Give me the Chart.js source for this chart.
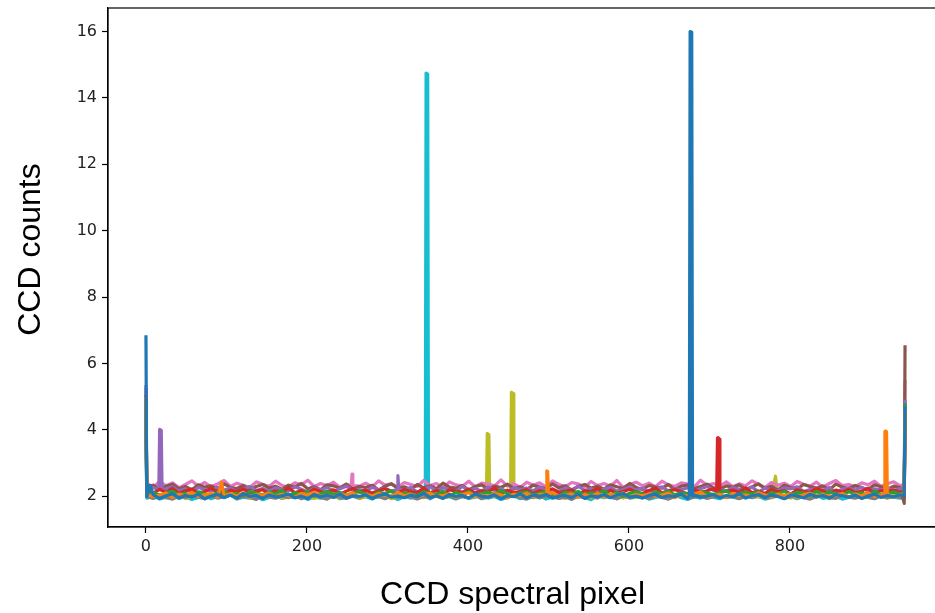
<!DOCTYPE html>
<html>
<head>
<meta charset="utf-8">
<script src="https://cdn.jsdelivr.net/npm/chart.js@4.4.1/dist/chart.umd.min.js"></script>
<style>
  html, body { margin: 0; padding: 0; background: #fff; overflow: hidden; }
  #ccdChart { display: block; }
</style>
</head>
<body>
<canvas id="ccdChart" width="950" height="613"></canvas>
<script>
// spectra read out of the CCD, one line per frame
const lastPixel = 943;
const sampleStep = 8;           // baseline values are kept every 8th pixel, starting at pixel 1
const xTicks = [0, 200, 400, 600, 800];
const yTicks = [2, 4, 6, 8, 10, 12, 14, 16];
const xTitle = 'CCD spectral pixel';
const yTitle = 'CCD counts';

const lineColors = ['#1f77b4', '#ff7f0e', '#2ca02c', '#d62728', '#9467bd',
                    '#8c564b', '#e377c2', '#7f7f7f', '#bcbd22', '#17becf'];

// counts at pixel 0, at the next-to-last pixel and at the last pixel
const blueEdges = [6.85, 2.01, 4.7];
const orangeEdges = [5.0, 2.05, 4.6];
const greenEdges = [4.9, 2.09, 4.8];
const redEdges = [5.05, 2.14, 4.5];
const purpleEdges = [5.35, 2.22, 4.9];
const brownEdges = [4.8, 1.78, 6.55];
const pinkEdges = [5.25, 2.36, 5.5];
const grayEdges = [4.4, 1.95, 4.4];
const oliveEdges = [4.2, 1.99, 4.6];
const cyanEdges = [4.1, 1.94, 4.3];

// baseline noise
const blueNoise = [1.98,2.04,1.93,2.01,2.07,1.95,2.02,1.97,2.06,1.92, 2.00,2.05,1.96,2.03,1.94,2.08,1.99,2.02,1.93,2.04,
  1.97,2.01,2.06,1.95,2.00,1.92,2.05,1.98,2.03,1.96, 2.07,1.94,2.01,1.99,2.04,1.93,2.02,2.06,1.97,2.00,
  1.95,2.03,1.98,2.08,1.96,2.01,1.93,2.05,1.99,2.02, 1.94,2.06,2.00,1.97,2.04,1.92,2.01,1.98,2.07,1.95,
  2.03,1.99,2.05,1.94,2.00,2.02,1.96,2.06,1.93,2.01, 1.98,2.04,1.95,2.03,2.08,1.97,2.00,1.94,2.02,2.05,
  1.96,2.01,1.99,2.06,1.93,2.03,1.97,2.00,2.04,1.95, 2.02,1.98,2.07,1.94,2.01,2.05,1.96,2.03,1.99,1.92,
  2.04,2.00,1.95,2.06,1.98,2.02,1.94,2.05,2.01,1.97, 2.03,1.93,2.00,2.06,1.96,2.02,1.98,2.04];
const orangeNoise = [2.05,1.98,2.03,2.09,1.96,2.06,2.01,2.11,1.99,2.04, 2.08,1.97,2.02,2.07,2.00,2.10,1.95,2.05,2.03,2.09,
  1.98,2.06,2.01,1.96,2.08,2.04,2.12,1.99,2.03,1.97, 2.07,2.02,2.10,1.95,2.05,2.00,2.08,2.03,1.98,2.11,
  2.01,2.06,1.97,2.04,2.09,1.99,2.02,2.07,1.96,2.05, 2.10,2.00,2.03,1.98,2.08,2.04,1.95,2.06,2.01,2.09,
  1.97,2.05,2.02,2.11,1.99,2.03,2.07,1.96,2.04,2.00, 2.08,1.98,2.06,2.02,2.10,1.95,2.05,2.01,2.07,1.99,
  2.03,2.09,1.97,2.04,2.00,2.06,2.12,1.98,2.02,2.05, 1.96,2.08,2.01,2.04,1.99,2.10,2.03,1.97,2.06,2.02,
  2.07,1.95,2.04,2.09,2.00,2.05,1.98,2.03,2.08,1.96, 2.06,2.01,2.10,1.99,2.04,2.02,1.97,2.05];
const greenNoise = [2.06,2.12,2.02,2.10,2.15,2.04,2.09,2.00,2.13,2.07, 2.03,2.11,2.16,2.05,2.08,2.01,2.14,2.09,2.04,2.12,
  2.07,2.17,2.02,2.10,2.06,2.13,2.00,2.08,2.15,2.05, 2.11,2.03,2.09,2.14,2.06,2.01,2.12,2.08,2.16,2.04,
  2.10,2.07,2.02,2.13,2.09,2.05,2.15,2.00,2.11,2.06, 2.14,2.03,2.08,2.12,2.05,2.17,2.07,2.02,2.10,2.13,
  2.04,2.09,2.15,2.06,2.01,2.12,2.08,2.14,2.03,2.10, 2.07,2.16,2.05,2.11,2.00,2.09,2.13,2.06,2.02,2.12,
  2.08,2.15,2.04,2.10,2.07,2.01,2.14,2.09,2.05,2.11, 2.16,2.03,2.08,2.12,2.06,2.13,2.00,2.10,2.07,2.15,
  2.04,2.11,2.09,2.02,2.14,2.06,2.12,2.08,2.03,2.13, 2.07,2.10,2.01,2.15,2.05,2.09,2.12,2.06];
const redNoise = [2.17,2.09,2.20,2.12,2.23,2.08,2.16,2.21,2.10,2.14, 2.24,2.11,2.06,2.18,2.13,2.22,2.09,2.15,2.19,2.07,
  2.16,2.12,2.25,2.10,2.17,2.08,2.21,2.14,2.11,2.19, 2.06,2.15,2.23,2.12,2.18,2.09,2.16,2.22,2.13,2.08,
  2.20,2.14,2.11,2.24,2.10,2.17,2.07,2.19,2.15,2.12, 2.21,2.09,2.16,2.13,2.25,2.08,2.18,2.11,2.14,2.20,
  2.07,2.17,2.12,2.22,2.10,2.15,2.19,2.06,2.16,2.13, 2.23,2.11,2.18,2.09,2.14,2.21,2.12,2.08,2.17,2.24,
  2.10,2.15,2.20,2.13,2.07,2.19,2.11,2.16,2.22,2.09, 2.14,2.18,2.12,2.25,2.10,2.15,2.08,2.20,2.13,2.17,
  2.06,2.19,2.14,2.11,2.23,2.16,2.09,2.18,2.12,2.21, 2.10,2.15,2.24,2.08,2.17,2.13,2.19,2.11];
const purpleNoise = [2.19,2.25,2.14,2.23,2.28,2.16,2.22,2.12,2.26,2.20, 2.15,2.27,2.18,2.24,2.13,2.21,2.29,2.17,2.23,2.14,
  2.25,2.19,2.16,2.28,2.21,2.12,2.24,2.18,2.26,2.15, 2.22,2.30,2.17,2.20,2.13,2.27,2.19,2.24,2.15,2.23,
  2.18,2.26,2.12,2.21,2.28,2.16,2.25,2.20,2.14,2.29, 2.19,2.23,2.15,2.27,2.17,2.22,2.13,2.26,2.20,2.24,
  2.16,2.28,2.18,2.21,2.14,2.25,2.19,2.30,2.17,2.23, 2.12,2.22,2.26,2.15,2.20,2.27,2.18,2.24,2.13,2.21,
  2.28,2.16,2.23,2.19,2.25,2.14,2.22,2.29,2.17,2.20, 2.15,2.26,2.21,2.18,2.27,2.13,2.24,2.19,2.16,2.25,
  2.22,2.28,2.14,2.20,2.23,2.17,2.26,2.12,2.21,2.24, 2.18,2.27,2.15,2.22,2.19,2.25,2.16,2.23];
const brownNoise = [2.25,2.33,2.20,2.30,2.36,2.22,2.29,2.19,2.34,2.27, 2.31,2.21,2.37,2.26,2.23,2.32,2.18,2.29,2.35,2.24,
  2.30,2.20,2.33,2.27,2.38,2.22,2.28,2.19,2.34,2.31, 2.24,2.36,2.21,2.29,2.26,2.33,2.18,2.30,2.37,2.23,
  2.28,2.20,2.35,2.25,2.31,2.22,2.39,2.27,2.24,2.32, 2.19,2.29,2.34,2.21,2.30,2.26,2.36,2.23,2.28,2.20,
  2.33,2.27,2.22,2.37,2.25,2.31,2.18,2.29,2.35,2.24, 2.30,2.21,2.34,2.28,2.23,2.38,2.26,2.20,2.32,2.27,
  2.24,2.35,2.19,2.30,2.33,2.22,2.29,2.36,2.25,2.21, 2.31,2.27,2.34,2.20,2.28,2.37,2.23,2.30,2.18,2.33,
  2.26,2.22,2.35,2.29,2.24,2.31,2.19,2.36,2.27,2.23, 2.32,2.25,2.20,2.34,2.28,2.21,2.30,2.26];
const pinkNoise = [2.38,2.27,2.44,2.31,2.40,2.25,2.35,2.46,2.30,2.41, 2.28,2.37,2.47,2.29,2.39,2.33,2.26,2.43,2.36,2.30,
  2.45,2.32,2.27,2.40,2.34,2.48,2.29,2.38,2.31,2.42, 2.26,2.36,2.44,2.30,2.39,2.28,2.46,2.33,2.37,2.27,
  2.41,2.35,2.29,2.47,2.32,2.38,2.25,2.43,2.34,2.30, 2.45,2.28,2.39,2.36,2.31,2.49,2.30,2.37,2.26,2.42,
  2.33,2.40,2.28,2.46,2.35,2.29,2.41,2.37,2.27,2.44, 2.32,2.38,2.30,2.47,2.26,2.36,2.42,2.31,2.39,2.28,
  2.45,2.34,2.29,2.40,2.36,2.27,2.48,2.33,2.38,2.30, 2.43,2.28,2.37,2.31,2.46,2.35,2.26,2.41,2.33,2.39,
  2.29,2.44,2.36,2.30,2.42,2.27,2.38,2.47,2.32,2.35, 2.28,2.40,2.34,2.45,2.30,2.37,2.43,2.31];
const grayNoise = [1.99,1.93,2.02,1.96,1.91,2.00,1.95,2.03,1.97,1.92, 2.01,1.94,1.98,2.04,1.93,1.99,1.96,1.90,2.02,1.97,
  1.94,2.00,1.95,2.03,1.92,1.98,2.01,1.96,1.91,2.02, 1.97,1.93,2.00,1.95,2.04,1.94,1.99,1.92,2.01,1.96,
  2.03,1.97,1.91,1.99,1.94,2.02,1.96,2.00,1.93,1.98, 1.95,2.03,1.92,1.97,2.01,1.94,1.99,2.04,1.96,1.91,
  2.00,1.95,1.98,2.02,1.93,1.97,1.90,2.01,1.96,1.99, 1.94,2.03,1.97,1.92,2.00,1.95,2.02,1.98,1.93,2.01,
  1.96,1.91,1.99,2.04,1.94,1.97,2.00,1.93,1.98,2.02, 1.95,1.99,1.92,2.01,1.96,2.03,1.94,1.97,2.00,1.93,
  1.98,2.02,1.95,1.91,1.99,2.01,1.96,1.93,2.03,1.97, 1.94,2.00,1.96,1.92,2.01,1.95,1.99,1.96];
const oliveNoise = [2.01,1.96,2.05,1.94,2.00,2.03,1.93,1.98,2.06,1.97, 2.02,1.95,1.99,2.04,1.92,2.01,1.97,2.05,1.95,2.00,
  2.03,1.94,1.98,2.06,1.96,2.02,1.93,2.00,2.04,1.97, 1.95,2.01,2.05,1.94,1.99,2.03,1.96,2.02,1.92,1.98,
  2.04,1.97,2.00,1.95,2.06,1.99,1.94,2.02,1.97,2.03, 1.93,2.00,1.96,2.05,1.98,2.01,1.95,2.04,1.97,1.99,
  2.02,1.94,2.06,1.96,2.00,1.93,2.03,1.98,2.01,1.95, 2.05,1.97,1.99,2.02,1.94,2.04,1.96,2.00,1.93,2.03,
  1.98,2.01,1.95,2.05,1.97,1.99,2.02,1.94,2.06,1.96, 2.00,2.03,1.93,1.98,2.04,1.97,2.01,1.95,1.99,2.02,
  1.94,2.05,1.97,2.00,1.96,2.03,1.92,1.99,2.04,1.98, 2.01,1.95,2.03,1.97,2.00,1.94,2.02,1.98];
const cyanNoise = [1.94,2.00,1.91,1.97,2.02,1.93,1.98,1.90,1.96,2.01, 1.92,1.99,1.95,2.03,1.91,1.97,1.94,2.00,1.89,1.96,
  2.02,1.93,1.98,1.95,2.01,1.90,1.97,1.94,1.99,2.03, 1.92,1.96,2.00,1.93,1.98,1.91,2.02,1.95,1.97,1.90,
  1.99,1.94,2.01,1.96,1.92,2.03,1.95,1.98,1.91,2.00, 1.93,1.97,2.02,1.94,1.99,1.90,1.96,2.01,1.92,1.98,
  1.95,2.03,1.91,1.97,1.94,2.00,1.93,1.99,1.96,1.89, 2.02,1.95,1.98,1.92,2.01,1.94,1.97,2.00,1.91,1.96,
  1.99,1.93,2.03,1.95,1.90,1.98,1.94,2.01,1.96,1.92, 2.00,1.97,1.93,2.02,1.95,1.99,1.91,1.96,2.01,1.94,
  1.98,1.92,2.00,1.95,2.03,1.93,1.97,1.99,1.91,1.96, 2.01,1.94,1.98,1.93,2.00,1.95,1.97,1.94];

// spikes and bumps: each group is a run of [pixel, counts]
const blueSpikes = [[[5, 2.32]], [[675, 2.02], [676, 16.0], [677, 16.0], [678, 15.98], [679, 2.0]]];
const orangeSpikes = [[[94, 2.42]], [[497, 2.05], [498, 2.76], [499, 2.74], [500, 2.05]],
  [[917, 2.05], [918, 3.95], [919, 3.96], [920, 3.94], [921, 2.06]]];
const greenSpikes = [];
const redSpikes = [[[709, 2.14], [710, 3.75], [711, 3.76], [712, 3.72], [713, 2.12]]];
const purpleSpikes = [[[16, 2.2], [17, 4.01], [19, 3.98], [20, 2.18]], [[312, 2.2], [313, 2.62], [314, 2.21]]];
const brownSpikes = [];
const pinkSpikes = [[[255, 2.31], [256, 2.66], [257, 2.32]]];
const graySpikes = [];
const oliveSpikes = [[[423, 2.01], [424, 3.89], [426, 3.85], [427, 2.02]],
  [[453, 2.08], [454, 5.13], [456, 5.09], [457, 2.05]], [[782, 2.6]]];
const cyanSpikes = [[[347, 2.0], [348, 14.75], [350, 14.72], [351, 2.0]]];

function buildSeries(edges, noise, spikes) {
  const inSpike = x => spikes.some(g => x >= g[0][0] && x <= g[g.length - 1][0]);
  const pts = [{ x: 0, y: edges[0] }];
  noise.forEach((v, i) => {
    const x = 1 + i * sampleStep;
    if (x < lastPixel - 1 && !inSpike(x)) pts.push({ x: x, y: v });
  });
  spikes.forEach(g => g.forEach(([x, y]) => pts.push({ x: x, y: y })));
  pts.push({ x: lastPixel - 1, y: edges[1] });
  pts.push({ x: lastPixel, y: edges[2] });
  return pts.sort((a, b) => a.x - b.x);
}

const series = [
  buildSeries(blueEdges, blueNoise, blueSpikes),
  buildSeries(orangeEdges, orangeNoise, orangeSpikes),
  buildSeries(greenEdges, greenNoise, greenSpikes),
  buildSeries(redEdges, redNoise, redSpikes),
  buildSeries(purpleEdges, purpleNoise, purpleSpikes),
  buildSeries(brownEdges, brownNoise, brownSpikes),
  buildSeries(pinkEdges, pinkNoise, pinkSpikes),
  buildSeries(grayEdges, grayNoise, graySpikes),
  buildSeries(oliveEdges, oliveNoise, oliveSpikes),
  buildSeries(cyanEdges, cyanNoise, cyanSpikes)
];

// box around the plot area
const frame = {
  id: 'frame',
  beforeDatasetsDraw(chart) {
    const { ctx, chartArea: a } = chart;
    ctx.save();
    ctx.strokeStyle = '#000';
    ctx.lineWidth = 1.2;
    ctx.strokeRect(a.left, a.top, a.right - a.left, a.bottom - a.top);
    ctx.restore();
  }
};

// axis labels, placed by hand next to the plot area
const axisTitles = {
  id: 'axisTitles',
  afterDraw(chart) {
    const { ctx, chartArea: a } = chart;
    ctx.save();
    ctx.fillStyle = '#000';
    ctx.font = '32px "Liberation Sans"';
    ctx.textAlign = 'center';
    ctx.textBaseline = 'alphabetic';
    ctx.fillText(xTitle, (a.left + a.right) / 2 - 13, 604);
    ctx.translate(40, (a.top + a.bottom) / 2 - 18);
    ctx.rotate(-Math.PI / 2);
    ctx.fillText(yTitle, 0, 0);
    ctx.restore();
  }
};

const tickFont = { family: 'DejaVu Sans', size: 16 };

new Chart(document.getElementById('ccdChart'), {
  type: 'line',
  data: {
    datasets: series.map((pts, i) => ({
      data: pts,
      borderColor: lineColors[i],
      borderWidth: 3.2,
      borderJoinStyle: 'round',
      pointRadius: 0,
      tension: 0,
      fill: false
    }))
  },
  options: {
    responsive: false,
    animation: false,
    layout: { padding: { top: 8, right: 7, left: 0, bottom: 0 } },
    plugins: { legend: { display: false }, tooltip: { enabled: false } },
    scales: {
      x: {
        type: 'linear',
        min: -47.15,
        max: 990.15,
        afterBuildTicks: axis => { axis.ticks = xTicks.map(v => ({ value: v })); },
        afterFit: scale => { scale.height = 86; scale.paddingLeft = 0; scale.paddingRight = 0; },
        ticks: { font: tickFont, color: '#222', padding: 4, maxRotation: 0 },
        grid: { drawOnChartArea: false, tickLength: 6, tickColor: '#000', tickWidth: 1.2 },
        border: { color: '#000', width: 1.2 }
      },
      y: {
        type: 'linear',
        min: 1.069,
        max: 16.711,
        afterBuildTicks: axis => { axis.ticks = yTicks.map(v => ({ value: v })); },
        afterFit: scale => { scale.width = 108; scale.paddingTop = 0; scale.paddingBottom = 0; },
        ticks: { font: tickFont, color: '#222', padding: 5 },
        grid: { drawOnChartArea: false, tickLength: 6, tickColor: '#000', tickWidth: 1.2 },
        border: { color: '#000', width: 1.2 }
      }
    }
  },
  plugins: [frame, axisTitles]
});
</script>
</body>
</html>
